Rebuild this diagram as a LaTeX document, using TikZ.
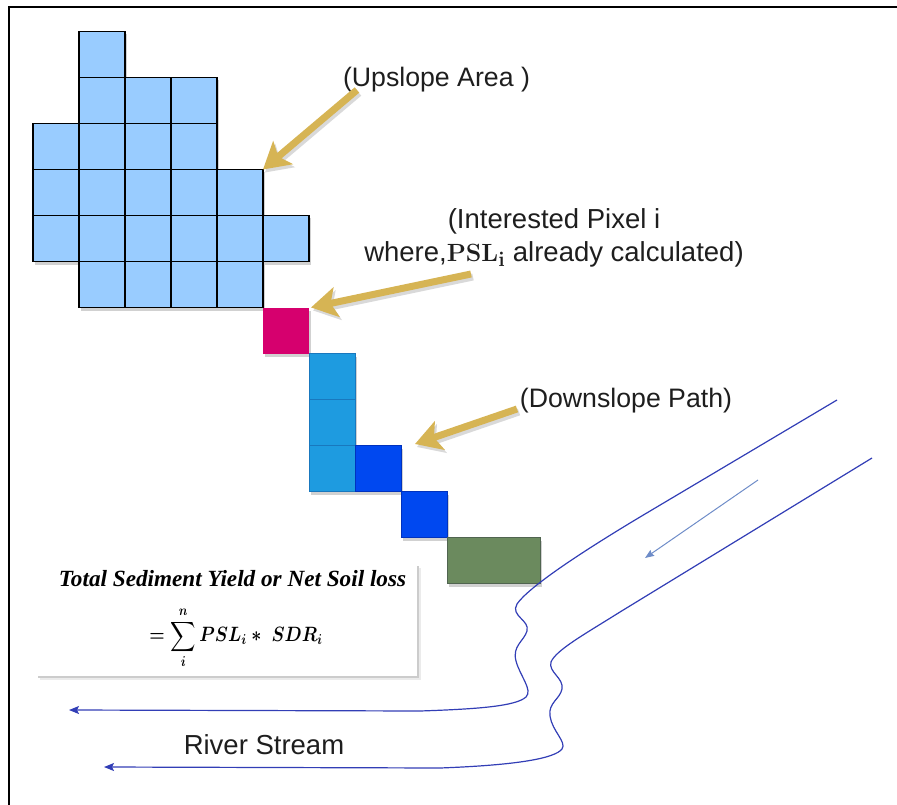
\documentclass[tikz,border=0pt]{standalone}
\usepackage[no-math]{fontspec}
\usepackage{exscale}
\newfontfamily\arialfont{Liberation Sans}
\newfontfamily\timesfont{Liberation Serif}
\usetikzlibrary{arrows.meta}
\definecolor{upblue}{RGB}{153,204,255}
\definecolor{pathblue}{RGB}{30,155,224}
\definecolor{pathblueline}{RGB}{25,120,190}
\definecolor{deepblue}{RGB}{0,72,240}
\definecolor{deepblueline}{RGB}{0,50,190}
\definecolor{pixmag}{RGB}{214,0,110}
\definecolor{outgreen}{RGB}{107,138,94}
\definecolor{outgreenline}{RGB}{80,100,80}
\definecolor{goldarr}{RGB}{214,180,84}
\definecolor{riverblue}{RGB}{50,62,182}
\definecolor{flowblue}{RGB}{110,140,200}
\definecolor{txtgray}{RGB}{30,30,30}
\tikzset{
  cellbase/.style={minimum size=46pt, inner sep=0pt, outer sep=0pt},
  upcell/.style={cellbase, draw=black, line width=1.3pt, fill=upblue},
  pixcell/.style={cellbase, fill=pixmag},
  pathcell/.style={cellbase, draw=pathblueline, line width=0.8pt, fill=pathblue},
  deepcell/.style={cellbase, draw=deepblueline, line width=0.8pt, fill=deepblue},
  outcell/.style={cellbase, minimum width=93pt, draw=outgreenline, line width=0.8pt, fill=outgreen},
  cellshadow/.style={fill=black!18},
  goldarrow/.style={draw=goldarr, line width=7pt, -{Stealth[length=26pt,width=30pt,inset=6pt]}},
  goldshadow/.style={draw=black!15, line width=7pt, -{Stealth[length=26pt,width=30pt,inset=6pt]}},
  lbl/.style={text=txtgray, inner sep=0pt, font=\arialfont\fontsize{26.7}{30}\selectfont},
  river/.style={draw=riverblue, line width=1.2pt, -{Stealth[length=10pt,width=8pt,inset=2pt]}},
  flow/.style={draw=flowblue, line width=1pt, -{Stealth[length=9pt,width=7pt,inset=1pt]}},
  fbox/.style={fill=white, minimum width=382pt, minimum height=114pt, inner sep=0pt},
  ftext/.style={inner sep=0pt, text=black},
}
\begin{document}
\begin{tikzpicture}[x=1pt,y=-1pt]
\useasboundingbox (0,0) rectangle (897,805);
% frame (only top and left edges visible)
\draw[line width=2pt] (9.3,805) -- (9.3,6.8) -- (897,6.8);

% shadows of the cells
\foreach \r/\a/\b in {0/1/1,1/1/3,2/0/3,3/0/4,4/0/5,5/1/4,6/5/5,7/6/6,8/6/6,9/6/7,10/8/8}
  \foreach \c in {\a,...,\b}
    \fill[cellshadow] ({33+46*\c+2},{31.5+46*\r+3}) rectangle ++(46,46);
\fill[cellshadow] (449,540.5) rectangle ++(93,46);

% upslope area
\foreach \r/\a/\b in {0/1/1,1/1/3,2/0/3,3/0/4,4/0/5,5/1/4}
  \foreach \c in {\a,...,\b}
    \node[upcell] (u-\r-\c) at ({56+46*\c},{54.5+46*\r}) {};

% interested pixel
\node[pixcell] (pix) at (286,330.5) {};
% downslope path
\node[pathcell] (p1) at (332,376.5) {};
\node[pathcell] (p2) at (332,422.5) {};
\node[pathcell] (p3) at (332,468.5) {};
\node[deepcell] (d1) at (378,468.5) {};
\node[deepcell] (d2) at (424,514.5) {};
\node[outcell] (out) at (493.5,560.5) {};

% labels
\node[lbl] (uplbl) at (436.5,80) {(Upslope Area )};
\node[lbl, align=center, font=\arialfont\fontsize{27.5}{33}\selectfont] (intlbl) at (554,237.5)
  {(Interested Pixel i\\where,$\mathbf{PSL_i}$ already calculated)};
\node[lbl] (downlbl) at (626,401) {(Downslope Path)};
\node[lbl, font=\arialfont\fontsize{27.5}{32}\selectfont] (riverlbl) at (264,745) {River Stream};

% gold pointers
\coordinate (upA) at (357,90);
\coordinate (intA) at (471,274);
\coordinate (downA) at (517,409);
\coordinate (downT) at (415,444);
\begin{scope}[transform canvas={shift={(2pt,-3pt)}}]
  \draw[goldshadow] (upA) -- (u-3-4.north east);
  \draw[goldshadow] (intA) -- ([xshift=2pt]pix.north east);
  \draw[goldshadow] (downA) -- (downT);
\end{scope}
\draw[goldarrow] (upA) -- (u-3-4.north east);
\draw[goldarrow] (intA) -- ([xshift=2pt]pix.north east);
\draw[goldarrow] (downA) -- (downT);

% formula box
\fill[black!8] (40,568) rectangle (421,680);
\fill[black!20] (38,566) rectangle (419,678);
\node[fbox] (fbox) at (226,619) {};
\node[ftext, font=\timesfont\fontsize{23.2}{26}\selectfont\bfseries\itshape] (ftitle) at (232.5,579)
  {Total Sediment Yield or Net Soil loss};
\node[ftext, font=\fontsize{20.74}{24}\selectfont\mathversion{bold}] (feq) at (236,638)
  {\scalebox{0.85}[1]{\mathversion{bold}$\displaystyle = \sum\limits_{i}^{n} PSL_i \ast\; SDR_i$}};

% river banks
\draw[river] (837,400) -- (640,517)
  .. controls (575,556) and (528,588) .. (517,604)
  .. controls (510,616) and (530,620) .. (527,631)
  .. controls (524,641) and (512,646) .. (516,661)
  .. controls (520,676) and (533,690) .. (526,697)
  .. controls (516,706) and (480,709) .. (420,711)
  -- (69,710);
\draw[river] (872,458) -- (620,612)
  .. controls (585,634) and (556,650) .. (551,662)
  .. controls (548,672) and (564,678) .. (562,689)
  .. controls (560,699) and (548,703) .. (550,716)
  .. controls (552,731) and (567,742) .. (562,749)
  .. controls (555,758) and (520,765) .. (440,768)
  -- (104,767);
% flow direction
\coordinate (flowA) at (758,480);
\coordinate (flowB) at (645,558);
\draw[flow] (flowA) -- (flowB);
\end{tikzpicture}
\end{document}
